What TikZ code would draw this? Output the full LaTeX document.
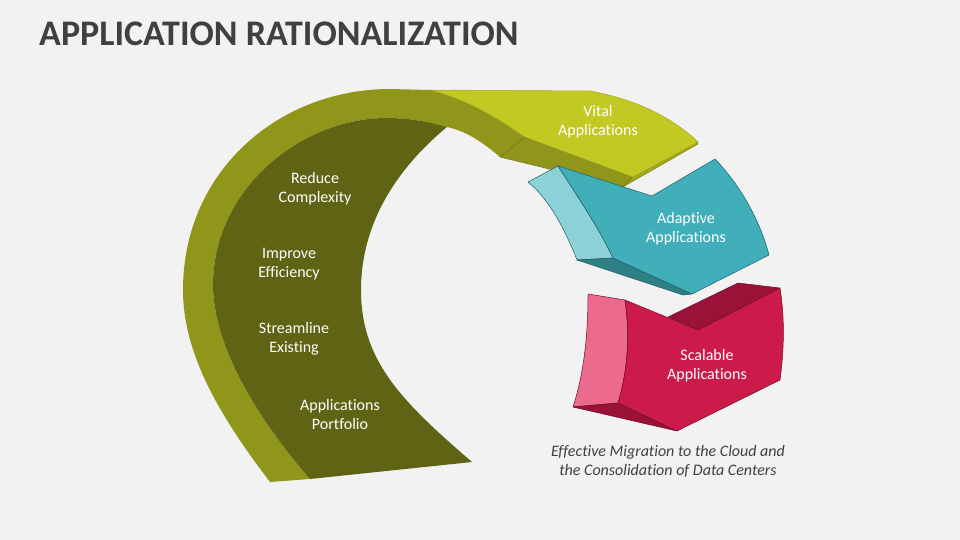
\documentclass[tikz,border=0pt]{standalone}
\usepackage{fontspec}
\setmainfont{Carlito}[Ligatures={NoCommon}]
\definecolor{bg}{HTML}{F2F2F2}
\definecolor{titlegrey}{HTML}{404040}
\definecolor{darkolive}{HTML}{5F6314}
\definecolor{midolive}{HTML}{8F961A}
\definecolor{lightolive}{HTML}{C2C923}
\definecolor{sliverolive}{HTML}{A3A817}
\definecolor{edgeolive}{HTML}{6E7212}
\definecolor{teal}{HTML}{40AFB9}
\definecolor{lightteal}{HTML}{8CD1D7}
\definecolor{darkteal}{HTML}{2E7F86}
\definecolor{edgeteal}{HTML}{215E63}
\definecolor{crimson}{HTML}{CC1A4A}
\definecolor{pinkface}{HTML}{EC6A8E}
\definecolor{darkcrimson}{HTML}{9A1238}
\definecolor{edgecrimson}{HTML}{6E0D28}
\tikzset{
  lbl/.style={text=white, align=center, font=\fontsize{16}{19}\selectfont},
  captext/.style={text=titlegrey, align=center, font=\itshape\fontsize{16}{19}\selectfont},
  face/.style={line width=0.5pt, line join=round}
}
\begin{document}
\begin{tikzpicture}[x=1pt,y=-1pt]
\useasboundingbox (0,0) rectangle (960,540);
\fill[bg] (0,0) rectangle (960,540);

% title
\node[anchor=base west, inner sep=0pt, text=titlegrey, font=\bfseries\fontsize{36}{40}\selectfont] (title) at (39,46) {APPLICATION RATIONALIZATION};

% ---------- green arc ----------
\fill[midolive] (270,482) .. controls (215,410) and (183,350) .. (183,290)
  .. controls (183,170) and (280,89) .. (390,89) -- (430,90)
  .. controls (470,100) and (500,120) .. (525,137) -- (500,157)
  .. controls (480,140) and (465,131) .. (447,127)
  .. controls (430,122) and (410,118) .. (387,118)
  .. controls (300,118) and (213,190) .. (213,285)
  .. controls (213,340) and (250,410) .. (310,479) -- cycle;
\fill[darkolive] (310,479) .. controls (250,410) and (213,340) .. (213,285)
  .. controls (213,190) and (300,118) .. (387,118)
  .. controls (410,118) and (430,122) .. (447,127)
  .. controls (395,170) and (361,225) .. (361,290)
  .. controls (361,360) and (400,400) .. (472,462) -- cycle;

\filldraw[face, fill=midolive, draw=edgeolive] (500,157) -- (525,137) -- (633,177) -- (623,187) -- cycle;
\filldraw[face, fill=sliverolive, draw=edgeolive, line width=0.3pt] (633,177) -- (698,142) -- (698,144) -- (623,187) -- cycle;
\filldraw[face, fill=lightolive, draw=lightolive!85!black] (430,90) -- (590,91)
  .. controls (640,100) and (675,120) .. (698,142) -- (633,177) -- (525,137)
  .. controls (500,120) and (470,100) .. (430,90) -- cycle;

% ---------- Adaptive (teal) ----------
\filldraw[face, fill=lightteal, draw=edgeteal] (528,182) -- (558,166)
  .. controls (580,200) and (600,230) .. (613,258) -- (577,260)
  .. controls (565,230) and (550,200) .. (528,182) -- cycle;
\filldraw[face, fill=darkteal, draw=edgeteal] (577,260) -- (613,258) -- (692,294) -- (683,295) -- cycle;
\filldraw[face, fill=teal, draw=edgeteal] (558,166) -- (652,196) -- (715,159)
  .. controls (740,185) and (760,220) .. (769,255) -- (692,294) -- (613,258)
  .. controls (600,230) and (580,200) .. (558,166) -- cycle;

% ---------- Scalable (crimson) ----------
\filldraw[face, fill=darkcrimson, draw=edgecrimson] (668,317) -- (738,283) -- (780,288) -- (698,330) -- cycle;
\filldraw[face, fill=pinkface, draw=edgecrimson] (588,294) -- (625,300)
  .. controls (630,335) and (628,370) .. (618,403) -- (573,407)
  .. controls (585,370) and (588,330) .. (588,294) -- cycle;
\filldraw[face, fill=darkcrimson, draw=edgecrimson] (573,407) -- (618,403) -- (677,431) -- cycle;
\filldraw[face, fill=crimson, draw=edgecrimson] (625,300) -- (698,330) -- (780,288)
  .. controls (785,320) and (784,350) .. (780,380) -- (677,431) -- (618,403)
  .. controls (628,370) and (630,335) .. (625,300) -- cycle;

% ---------- labels ----------
\node[lbl] (reduce) at (315,189) {Reduce\\Complexity};
\node[lbl] (improve) at (289,264) {Improve\\Efficiency};
\node[lbl] (stream) at (294,339) {Streamline\\Existing};
\node[lbl] (portfolio) at (340,414) {Applications\\Portfolio};
\node[lbl] (vital) at (598,122) {Vital\\Applications};
\node[lbl] (adaptive) at (686,229) {Adaptive\\Applications};
\node[lbl] (scalable) at (707,366) {Scalable\\Applications};
\node[captext] (caption) at (668,461) {Effective Migration to the Cloud and\\the Consolidation of Data Centers};
\end{tikzpicture}
\end{document}
